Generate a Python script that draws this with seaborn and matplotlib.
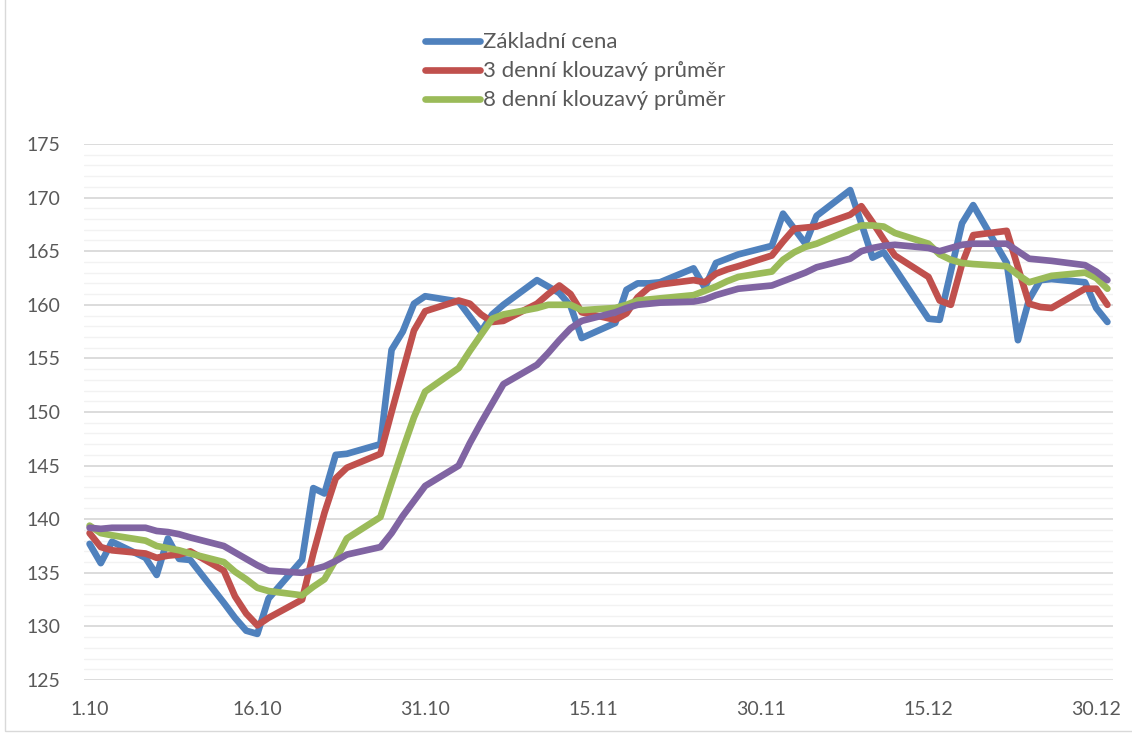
import pandas as pd
import matplotlib.pyplot as plt
import seaborn as sns
from matplotlib.patches import Rectangle

# ----------------------------------------------------------
# Data (trading days 1.10 - 31.12)
# ----------------------------------------------------------

dates = pd.bdate_range("2014-10-01", "2014-12-31")

zakladni_cena = [
    137.7, 135.9, 137.9,
    136.4, 134.8, 138.2, 136.3, 136.2,
    132.2, 130.8, 129.6, 129.3, 132.6,
    136.2, 142.9, 142.4, 146.0, 146.1,
    147.0, 155.8, 157.5, 160.1, 160.8,
    160.3, 158.9, 157.5, 159.1, 160.0,
    162.3, 161.7, 161.1, 159.9, 156.9,
    158.3, 161.4, 162.0, 162.0, 162.1,
    163.4, 161.6, 163.9, 164.3, 164.7,
    165.5, 168.5, 167.1, 165.7, 168.3,
    170.7, 167.6, 164.4, 164.9, 163.4,
    158.7, 158.6, 163.1, 167.6, 169.3,
    163.9, 156.7, 160.5, 162.3, 162.4,
    162.1, 159.7, 158.4,
]

prumer_3 = [
    138.7, 137.4, 137.1,
    136.8, 136.4, 136.6, 136.7, 137.0,
    135.2, 132.8, 131.2, 130.1, 130.8,
    132.5, 136.8, 140.6, 143.8, 144.8,
    146.1, 150.0, 153.8, 157.6, 159.4,
    160.4, 160.1, 159.1, 158.4, 158.5,
    160.1, 161.0, 161.8, 161.0, 159.3,
    158.6, 159.2, 160.7, 161.6, 161.9,
    162.3, 162.1, 162.9, 163.3, 163.6,
    164.6, 165.9, 167.1, 167.2, 167.3,
    168.4, 169.2, 167.7, 166.1, 164.6,
    162.6, 160.4, 160.0, 163.8, 166.5,
    166.9, 163.5, 160.1, 159.8, 159.7,
    161.5, 161.5, 160.0,
]

prumer_8 = [
    139.4, 138.7, 138.5,
    138.0, 137.5, 137.3, 137.1, 136.8,
    136.0, 135.1, 134.4, 133.6, 133.3,
    132.9, 133.7, 134.4, 136.2, 138.2,
    140.2, 143.4, 146.5, 149.5, 151.9,
    154.1, 155.7, 157.2, 158.7, 159.1,
    159.7, 160.0, 160.0, 160.0, 159.5,
    159.7, 160.0, 160.4, 160.5, 160.6,
    160.9, 161.3, 161.7, 162.2, 162.6,
    163.1, 164.2, 164.9, 165.4, 165.7,
    167.0, 167.4, 167.4, 167.3, 166.7,
    165.7, 164.7, 164.2, 163.9, 163.8,
    163.6, 162.8, 162.1, 162.4, 162.7,
    163.0, 162.5, 161.5,
]

prumer_dlouhy = [
    139.2, 139.1, 139.2,
    139.2, 138.9, 138.8, 138.6, 138.3,
    137.5, 136.9, 136.3, 135.7, 135.2,
    135.0, 135.3, 135.6, 136.1, 136.7,
    137.4, 138.7, 140.3, 141.7, 143.1,
    145.0, 147.1, 149.0, 150.8, 152.6,
    154.4, 155.5, 156.7, 157.8, 158.5,
    159.3, 159.7, 160.0, 160.1, 160.2,
    160.3, 160.5, 160.9, 161.2, 161.5,
    161.8, 162.2, 162.6, 163.0, 163.5,
    164.3, 165.0, 165.3, 165.5, 165.6,
    165.3, 165.0, 165.3, 165.6, 165.7,
    165.7, 165.0, 164.3, 164.2, 164.1,
    163.7, 163.1, 162.3,
]

tick_dates = pd.to_datetime([
    "2014-10-01", "2014-10-16", "2014-10-31", "2014-11-15",
    "2014-11-30", "2014-12-15", "2014-12-30",
])
tick_labels = ["1.10", "16.10", "31.10", "15.11", "30.11", "15.12", "30.12"]

# ----------------------------------------------------------
# Figure
# ----------------------------------------------------------

sns.set_theme(style="white")
plt.rcParams["font.family"] = ["Lato", "DejaVu Sans"]

W, H = 1132, 735
fig = plt.figure(figsize=(W / 100, H / 100), dpi=100)
ax = fig.add_axes([84 / W, 1 - 680 / H, (1113 - 84) / W, (680 - 144) / H])

series = [
    (zakladni_cena, "#4F81BD", "Základní cena"),
    (prumer_3, "#C0504D", "3 denní klouzavý průměr"),
    (prumer_8, "#9BBB59", "8 denní klouzavý průměr"),
    (prumer_dlouhy, "#8064A2", None),
]

for values, color, label in series:
    sns.lineplot(
        x=dates,
        y=values,
        color=color,
        linewidth=4.8,
        solid_joinstyle="round",
        solid_capstyle="round",
        legend=False,
        ax=ax,
    )

# axes
half_day = pd.Timedelta(hours=12)
ax.set_xlim(dates[0] - half_day, pd.Timestamp("2014-12-31") + half_day)
ax.set_ylim(125, 175)

ax.set_xticks(tick_dates)
ax.set_xticklabels(tick_labels)
ax.set_yticks(range(125, 176, 5))
ax.set_yticks(range(125, 176, 1), minor=True)

ax.grid(which="major", axis="y", color="#d9d9d9", linewidth=1.3)
ax.grid(which="minor", axis="y", color="#f2f2f2", linewidth=1.0)
ax.grid(axis="x", visible=False)
ax.set_axisbelow(True)

ax.tick_params(which="both", length=0)
ax.tick_params(axis="x", labelsize=14, labelcolor="#595959", pad=15)
ax.tick_params(axis="y", labelsize=14, labelcolor="#595959", pad=17)
ax.set_xlabel("")
ax.set_ylabel("")

for spine in ax.spines.values():
    spine.set_visible(False)

# legend (only the three named series)
handles = ax.get_lines()[:3]
labels = [s[2] for s in series[:3]]
ax.legend(
    handles,
    labels,
    loc="upper left",
    bbox_to_anchor=(425 / W, 1 - 32.5 / H),
    bbox_transform=fig.transFigure,
    frameon=False,
    fontsize=16,
    labelcolor="#595959",
    handlelength=2.48,
    handletextpad=0.12,
    labelspacing=0.4,
    borderpad=0,
    borderaxespad=0,
)

# chart area border
fig.patches.append(
    Rectangle(
        (4.5 / W, 4 / H), 1.2, 1.2,
        transform=fig.transFigure,
        fill=False,
        edgecolor="#d9d9d9",
        linewidth=1.0,
    )
)

fig.savefig("out.png", dpi=100)
plt.close(fig)
